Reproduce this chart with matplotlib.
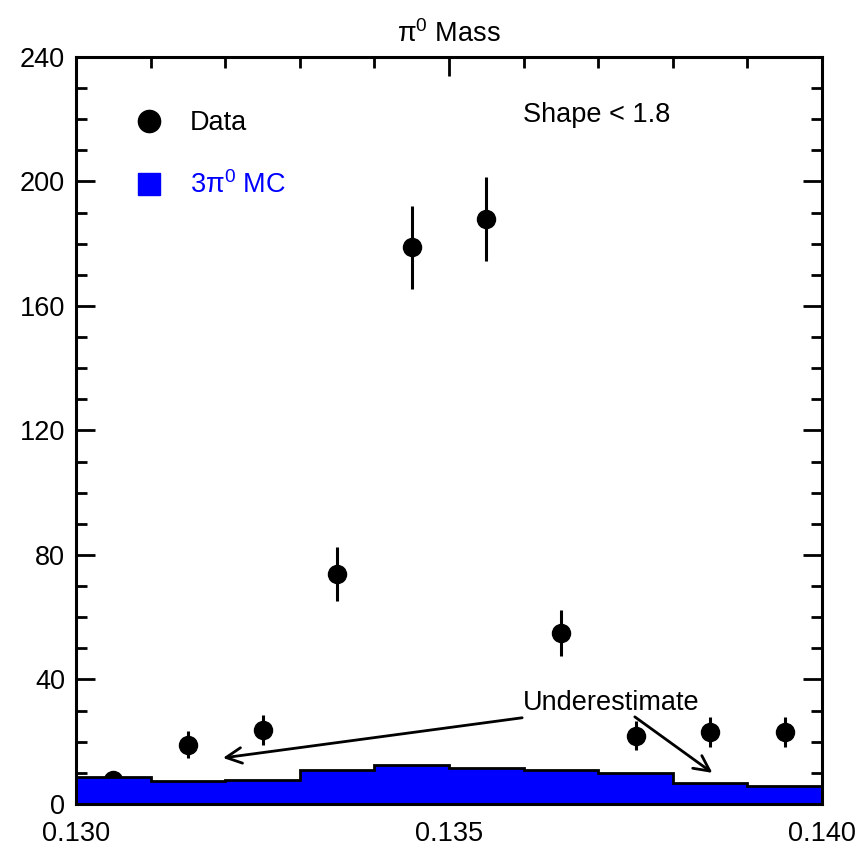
import numpy as np
import matplotlib.pyplot as plt
from matplotlib.lines import Line2D

plt.rcParams['font.family'] = ['Liberation Sans', 'DejaVu Sans']
plt.rcParams['mathtext.fontset'] = 'custom'
plt.rcParams['mathtext.rm'] = 'Liberation Sans'
plt.rcParams['mathtext.it'] = 'Liberation Sans'

# bin edges and centres (pi0 mass, GeV)
edges = [0.130, 0.131, 0.132, 0.133, 0.134, 0.135, 0.136, 0.137, 0.138, 0.139, 0.140]
centers = [0.1305, 0.1315, 0.1325, 0.1335, 0.1345, 0.1355, 0.1365, 0.1375, 0.1385, 0.1395]

data_counts = [7.7, 19.0, 23.8, 73.9, 178.9, 187.9, 54.8, 22.0, 23.0, 23.0]
data_errors = [2.8, 4.3, 4.9, 8.6, 13.3, 13.5, 7.4, 4.7, 4.8, 4.8]

mc_counts = [8.6, 7.3, 7.7, 10.9, 12.6, 11.6, 10.9, 10.1, 6.9, 5.8]

FS = 19.5

fig = plt.figure(figsize=(8.58, 8.48), dpi=100)
ax = fig.add_axes([0.0886, 0.0519, 0.8695, 0.8809])

ax.errorbar(centers, data_counts, yerr=data_errors, fmt='o', color='black',
            markersize=13, elinewidth=2.2, capsize=0, zorder=2)
ax.stairs(mc_counts, edges, fill=True, facecolor='#0000ff', edgecolor='black',
          linewidth=2, zorder=3)

ax.set_xlim(0.130, 0.140)
ax.set_ylim(0, 240)
ax.set_xticks([0.130, 0.135, 0.140])
ax.set_xticklabels(['0.130', '0.135', '0.140'])
ax.set_xticks(edges, minor=True)
ax.set_yticks([0, 40, 80, 120, 160, 200, 240])
ax.set_yticks(np.arange(0, 241, 10), minor=True)

ax.tick_params(which='both', direction='in', top=True, right=True, width=2,
               labelsize=FS)
ax.tick_params(which='major', length=14)
ax.tick_params(which='minor', length=8)
ax.tick_params(axis='x', pad=12)
ax.tick_params(axis='y', pad=8)
for sp in ax.spines.values():
    sp.set_linewidth(2.2)
    sp.set_zorder(5)

ax.set_title(r'$\mathrm{\pi}^0$ Mass', fontsize=FS, pad=11)

ax.text(0.599, 0.922, 'Shape < 1.8', transform=ax.transAxes, fontsize=FS,
        ha='left', va='center')

handles = [
    Line2D([], [], marker='o', color='black', linestyle='none', markersize=16),
    Line2D([], [], marker='s', color='#0000ff', linestyle='none', markersize=16),
]
leg = ax.legend(handles, ['Data', r'3$\mathrm{\pi}^0$ MC'], loc='upper left',
                bbox_to_anchor=(0.080, 0.929), frameon=False, fontsize=FS,
                handlelength=1.0, handletextpad=1.0, labelspacing=1.3,
                borderpad=0, borderaxespad=0)
leg.get_texts()[1].set_color('#0000ff')

ax.text(0.13718, 32.5, 'Underestimate', fontsize=FS, ha='center', va='center',
        zorder=6)
arrow = dict(arrowstyle='->', color='black', lw=2, mutation_scale=28,
             shrinkA=0, shrinkB=0)
ax.annotate('', xy=(0.13197, 14.8), xytext=(0.13598, 27.7), arrowprops=arrow,
            zorder=6)
ax.annotate('', xy=(0.13853, 10.0), xytext=(0.13749, 28.0), arrowprops=arrow,
            zorder=6)

fig.savefig('out.png', dpi=100)
